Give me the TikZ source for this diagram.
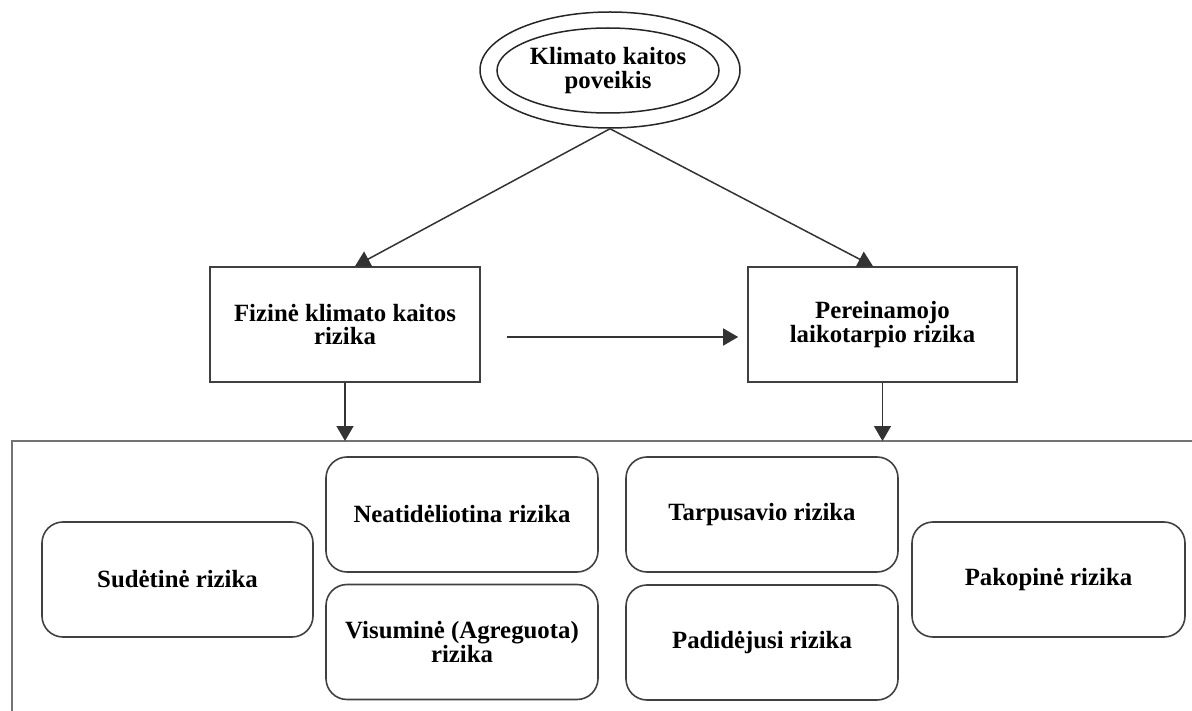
\documentclass[tikz,border=0pt]{standalone}
\usepackage{fontspec}
\setmainfont{Liberation Serif}
\usetikzlibrary{shapes.geometric,arrows.meta,calc}
\begin{document}
\begin{tikzpicture}[x=1pt,y=-1pt,
  every node/.style={font=\fontsize{24.8}{23.5}\selectfont\bfseries, align=center, inner sep=0pt},
  ring/.style={draw=black!85, line width=1.5pt, ellipse},
  riskbox/.style={draw=black!75, line width=1.6pt, rectangle},
  kind/.style={draw=black!75, line width=1.6pt, rectangle, rounded corners=21pt,
               minimum width=272pt, minimum height=115pt},
  link/.style={draw=black!80, line width=1.5pt, -{Triangle[width=17pt,length=15pt]}},
  frame/.style={draw=black!55, line width=2pt}]
\useasboundingbox (0,0) rectangle (1192,711);

% climate impact: double ellipse
\node[ring, minimum width=260pt, minimum height=116pt] (outer) at (610,70) {};
\node[ring, minimum width=222pt, minimum height=85pt] (impact) at (608,70.5)
  {Klimato kaitos\\poveikis};

% the two main risk types
\node[riskbox, minimum width=270pt, minimum height=115pt] (phys) at (345,324.5)
  {Fizinė klimato kaitos\\rizika};
\node[riskbox, minimum width=269pt, minimum height=115pt] (trans) at (882.5,324.5)
  {Pereinamojo\\laikotarpio rizika};

\draw[link] (outer.south) -- ([xshift=10pt]phys.north);
\draw[link] (outer.south) -- ([xshift=-9.5pt]trans.north);
\draw[link] ([shift={(26pt,-12.5pt)}]phys.east) -- ([shift={(-9pt,-12.5pt)}]trans.west);

% frame around the risk categories
\coordinate (fl) at (12,441);
\coordinate (fr) at (1192,441);
\coordinate (fb) at (12,711);
\draw[frame] (fr) -- (fl) -- (fb);

\draw[link] (phys.south) -- (phys.south |- fl);
\draw[link] (trans.south) -- (trans.south |- fl);

% risk categories
\node[kind, minimum width=271pt] (comp) at (177.5,579.5) {Sudėtinė rizika};
\node[kind] (acute) at (462,514.5) {Neatidėliotina rizika};
\node[kind] (aggr) at (462,642) {Visuminė (Agreguota)\\rizika};
\node[kind] (inter) at (762,514.5) {Tarpusavio rizika};
\node[kind] (incr) at (762,642.5) {Padidėjusi rizika};
\node[kind, minimum width=273pt] (casc) at (1048.5,579.5) {Pakopinė rizika};
\end{tikzpicture}
\end{document}
